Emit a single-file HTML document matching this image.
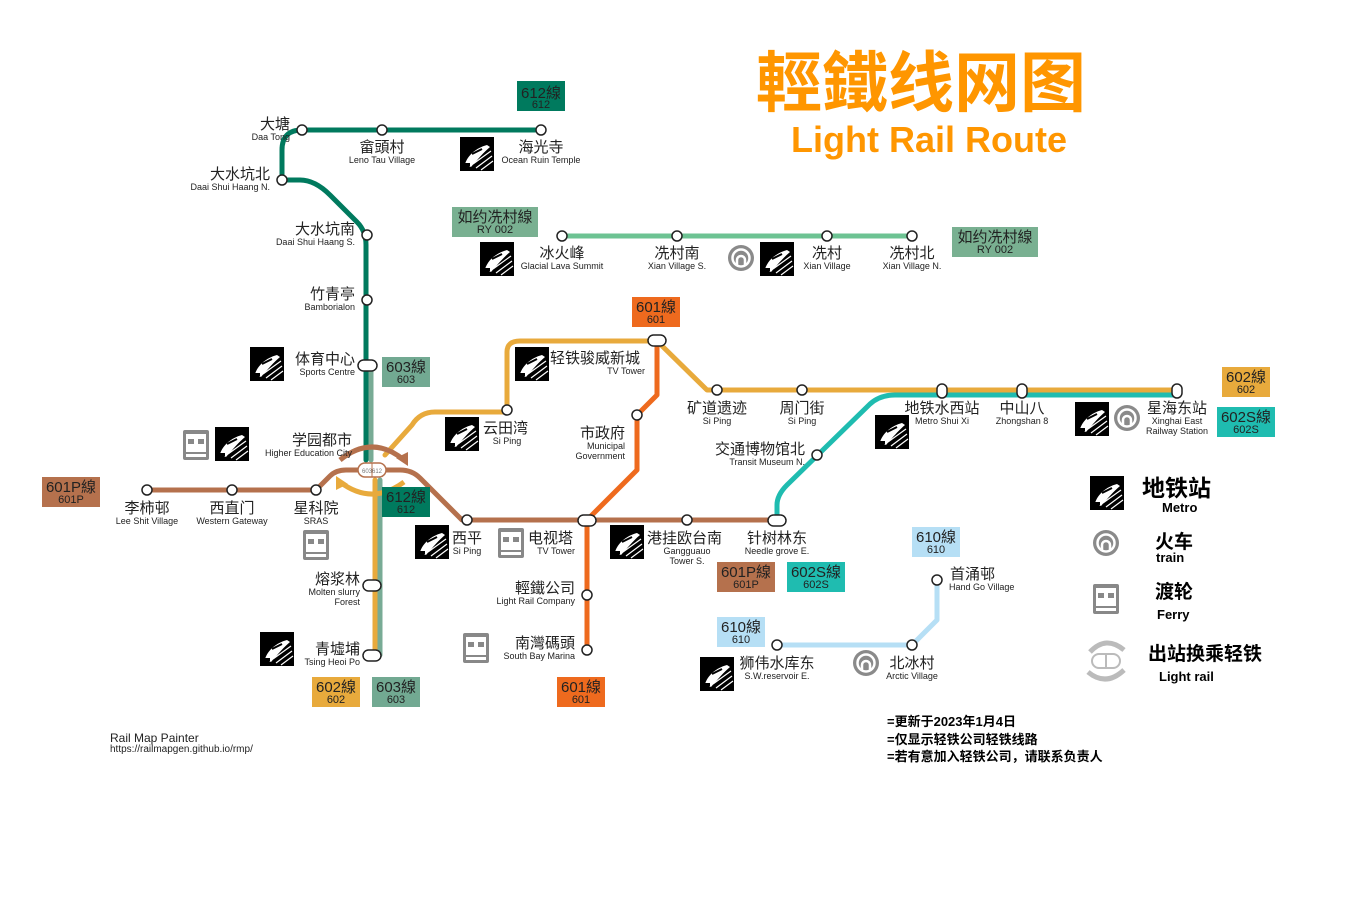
<!DOCTYPE html>
<html><head><meta charset="utf-8"><style>
html,body{margin:0;padding:0;background:#fff;width:1360px;height:915px;overflow:hidden}
svg{display:block}
text{font-family:"Liberation Sans","Noto Sans CJK SC",sans-serif;fill:#222}
.cn{font-size:15px}
.en{font-size:9px}
.bx{font-size:15px}
.bs{font-size:11px}
</style></head><body>
<svg width="1360" height="915" viewBox="0 0 1360 915" xmlns="http://www.w3.org/2000/svg">
<defs>
<g id="m"><rect width="34" height="34" fill="#000"/>
<path d="M5 27 C8 18 16 11 27 8 L30 10 C24 15 18 22 11 30 Z" fill="#fff"/>
<path d="M13 27 L31 14 M16 31 L32 19 M21 33 L33 24" stroke="#fff" stroke-width="1.2"/>
<path d="M12 17 L22 12" stroke="#000" stroke-width="2"/>
<rect x="5" y="26" width="5" height="3" fill="#000"/></g>
<g id="t"><circle r="13" fill="#8a8a8a"/><circle r="8.5" fill="none" stroke="#fff" stroke-width="2.5"/><path d="M-4 7 L-4 2 A4 4 0 1 1 4 2 L4 7" fill="none" stroke="#fff" stroke-width="2.5"/></g>
<g id="f"><rect width="26" height="30" rx="2" fill="#888"/><rect x="3" y="4" width="20" height="18" fill="#fff"/><rect x="5" y="9" width="6" height="5" fill="#888"/><rect x="15" y="9" width="6" height="5" fill="#888"/><rect x="3" y="24" width="20" height="3" fill="#fff"/></g>
</defs>

<text x="921" y="106" text-anchor="middle" style="font-size:66px;font-weight:bold;fill:#ff9600;font-family:'Noto Sans CJK SC',sans-serif">輕鐵线网图</text>
<text x="929" y="152" text-anchor="middle" style="font-size:36px;font-weight:bold;fill:#ff9600">Light Rail Route</text>

<g fill="none" stroke-linecap="round" stroke-linejoin="round" stroke-width="5">
<path d="M541 130 H302 Q282 130 282 150 V180 H300 Q315 180 330 195 L357 222 Q366 231 366 245 V460" stroke="#007a5e"/>
<path d="M371 365 V460" stroke="#78ab95"/>
<path d="M380 480 V655" stroke="#78ab95"/>
<path d="M375 480 V655" stroke="#e8aa3c"/>
<path d="M385 455 L412 425 Q420 412 435 412 H507 V352 Q507 341 520 341 H657 L707 390 H1177" stroke="#e8aa3c"/>
<path d="M562 236 H912" stroke="#6dc393"/>
<path d="M147 490 H316 L330 476 Q336 470 346 470 H400 Q412 470 420 478 L462 520 H777" stroke="#b5714d"/>
<path d="M657 341 V395 L637 415 V470 L587 520 V650" stroke="#ee6a1e"/>
<path d="M777 520 V505 Q777 495 787 485 L870 404 Q880 395 895 395 H1177" stroke="#1fbcb0"/>
<path d="M777 645 H912 L937 620 V580" stroke="#b6dff5"/>
</g>

<path d="M340 460 Q372 434 404 460" fill="none" stroke="#b5714d" stroke-width="5"/>
<path d="M396 458 L408 466 L408 452 Z" fill="#b5714d"/>
<path d="M404 482 Q372 506 340 482" fill="none" stroke="#e8aa3c" stroke-width="5"/>
<path d="M348 484 L336 476 L336 490 Z" fill="#e8aa3c"/>
<rect x="358" y="463" width="28" height="14" rx="7" fill="#fff" stroke="#b5714d" stroke-width="1.5"/>
<line x1="372" y1="463" x2="372" y2="477" stroke="#b5714d"/>
<text x="372" y="473" text-anchor="middle" style="font-size:6px;fill:#777">603612</text>

<g fill="#fff" stroke="#222" stroke-width="1.5">
<circle cx="302" cy="130" r="5"/><circle cx="382" cy="130" r="5"/><circle cx="541" cy="130" r="5"/>
<circle cx="282" cy="180" r="5"/><circle cx="367" cy="235" r="5"/><circle cx="367" cy="300" r="5"/>
<rect x="358" y="360" width="19" height="11" rx="5.5"/>
<circle cx="147" cy="490" r="5"/><circle cx="232" cy="490" r="5"/><circle cx="316" cy="490" r="5"/>
<rect x="363" y="580" width="18" height="11" rx="5.5"/><rect x="363" y="650" width="18" height="11" rx="5.5"/>
<circle cx="467" cy="520" r="5"/><rect x="578" y="515" width="18" height="11" rx="5.5"/>
<circle cx="687" cy="520" r="5"/><rect x="768" y="515" width="18" height="11" rx="5.5"/>
<circle cx="587" cy="595" r="5"/><circle cx="587" cy="650" r="5"/>
<circle cx="637" cy="415" r="5"/><circle cx="507" cy="410" r="5"/>
<rect x="648" y="335" width="18" height="11" rx="5.5"/>
<circle cx="717" cy="390" r="5"/><circle cx="802" cy="390" r="5"/>
<rect x="937" y="384" width="10" height="14" rx="5"/><rect x="1017" y="384" width="10" height="14" rx="5"/><rect x="1172" y="384" width="10" height="14" rx="5"/>
<circle cx="817" cy="455" r="5"/>
<circle cx="562" cy="236" r="5"/><circle cx="677" cy="236" r="5"/><circle cx="827" cy="236" r="5"/><circle cx="912" cy="236" r="5"/>
<circle cx="937" cy="580" r="5"/><circle cx="777" cy="645" r="5"/><circle cx="912" cy="645" r="5"/>
</g>

<use href="#m" x="460" y="137"/><use href="#m" x="250" y="347"/><use href="#m" x="215" y="427"/>
<use href="#m" x="260" y="632"/><use href="#m" x="415" y="525"/><use href="#m" x="610" y="525"/>
<use href="#m" x="445" y="417"/><use href="#m" x="515" y="347"/><use href="#m" x="875" y="415"/>
<use href="#m" x="1075" y="402"/><use href="#m" x="480" y="242"/><use href="#m" x="760" y="242"/>
<use href="#m" x="700" y="657"/><use href="#m" x="1090" y="476"/>
<use href="#f" x="183" y="430"/><use href="#f" x="303" y="530"/><use href="#f" x="498" y="528"/><use href="#f" x="463" y="633"/>
<use href="#f" x="1093" y="584"/>
<use href="#t" x="1127" y="418"/><use href="#t" x="741" y="258"/><use href="#t" x="866" y="663"/><use href="#t" x="1106" y="543"/>
<path d="M1090 652 Q1106 635 1124 650" fill="none" stroke="#bbb" stroke-width="5"/>
<path d="M1124 670 Q1106 687 1088 672" fill="none" stroke="#bbb" stroke-width="5"/>
<rect x="1092" y="654" width="28" height="14" rx="7" fill="#fff" stroke="#bbb" stroke-width="2"/>
<line x1="1106" y1="654" x2="1106" y2="668" stroke="#bbb" stroke-width="2"/>

<g>
<rect x="517" y="81" width="48" height="30" fill="#007a5e"/><text x="541" y="98" text-anchor="middle" class="bx">612線</text><text x="541" y="108" text-anchor="middle" class="bs">612</text>
<rect x="452" y="207" width="86" height="30" fill="#79b091"/><text x="495" y="222" text-anchor="middle" class="bx">如约冼村線</text><text x="495" y="233" text-anchor="middle" class="bs">RY 002</text>
<rect x="952" y="227" width="86" height="30" fill="#79b091"/><text x="995" y="242" text-anchor="middle" class="bx">如约冼村線</text><text x="995" y="253" text-anchor="middle" class="bs">RY 002</text>
<rect x="382" y="357" width="48" height="30" fill="#72a992"/><text x="406" y="372" text-anchor="middle" class="bx">603線</text><text x="406" y="383" text-anchor="middle" class="bs">603</text>
<rect x="632" y="297" width="48" height="30" fill="#ee6a1e"/><text x="656" y="312" text-anchor="middle" class="bx">601線</text><text x="656" y="323" text-anchor="middle" class="bs">601</text>
<rect x="1222" y="367" width="48" height="30" fill="#e8aa3c"/><text x="1246" y="382" text-anchor="middle" class="bx">602線</text><text x="1246" y="393" text-anchor="middle" class="bs">602</text>
<rect x="1217" y="407" width="58" height="30" fill="#1fbcb0"/><text x="1246" y="422" text-anchor="middle" class="bx">602S線</text><text x="1246" y="433" text-anchor="middle" class="bs">602S</text>
<rect x="42" y="477" width="58" height="30" fill="#b5714d"/><text x="71" y="492" text-anchor="middle" class="bx">601P線</text><text x="71" y="503" text-anchor="middle" class="bs">601P</text>
<rect x="382" y="487" width="48" height="30" fill="#007a5e"/><text x="406" y="502" text-anchor="middle" class="bx">612線</text><text x="406" y="513" text-anchor="middle" class="bs">612</text>
<rect x="717" y="562" width="58" height="30" fill="#b5714d"/><text x="746" y="577" text-anchor="middle" class="bx">601P線</text><text x="746" y="588" text-anchor="middle" class="bs">601P</text>
<rect x="787" y="562" width="58" height="30" fill="#1fbcb0"/><text x="816" y="577" text-anchor="middle" class="bx">602S線</text><text x="816" y="588" text-anchor="middle" class="bs">602S</text>
<rect x="912" y="527" width="48" height="30" fill="#b6dff5"/><text x="936" y="542" text-anchor="middle" class="bx">610線</text><text x="936" y="553" text-anchor="middle" class="bs">610</text>
<rect x="717" y="617" width="48" height="30" fill="#b6dff5"/><text x="741" y="632" text-anchor="middle" class="bx">610線</text><text x="741" y="643" text-anchor="middle" class="bs">610</text>
<rect x="312" y="677" width="48" height="30" fill="#e8aa3c"/><text x="336" y="692" text-anchor="middle" class="bx">602線</text><text x="336" y="703" text-anchor="middle" class="bs">602</text>
<rect x="372" y="677" width="48" height="30" fill="#72a992"/><text x="396" y="692" text-anchor="middle" class="bx">603線</text><text x="396" y="703" text-anchor="middle" class="bs">603</text>
<rect x="557" y="677" width="48" height="30" fill="#ee6a1e"/><text x="581" y="692" text-anchor="middle" class="bx">601線</text><text x="581" y="703" text-anchor="middle" class="bs">601</text>
</g>

<g class="cn">
<text x="290" y="129" text-anchor="end" class="cn">大塘</text><text x="290" y="140" text-anchor="end" class="en">Daa Tong</text>
<text x="382" y="152" text-anchor="middle" class="cn">畲頭村</text><text x="382" y="163" text-anchor="middle" class="en">Leno Tau Village</text>
<text x="541" y="152" text-anchor="middle" class="cn">海光寺</text><text x="541" y="163" text-anchor="middle" class="en">Ocean Ruin Temple</text>
<text x="270" y="179" text-anchor="end" class="cn">大水坑北</text><text x="270" y="190" text-anchor="end" class="en">Daai Shui Haang N.</text>
<text x="355" y="234" text-anchor="end" class="cn">大水坑南</text><text x="355" y="245" text-anchor="end" class="en">Daai Shui Haang S.</text>
<text x="355" y="299" text-anchor="end" class="cn">竹青亭</text><text x="355" y="310" text-anchor="end" class="en">Bamborialon</text>
<text x="355" y="364" text-anchor="end" class="cn">体育中心</text><text x="355" y="375" text-anchor="end" class="en">Sports Centre</text>
<text x="352" y="445" text-anchor="end" class="cn">学园都市</text><text x="352" y="456" text-anchor="end" class="en">Higher Education City</text>
<text x="147" y="513" text-anchor="middle" class="cn">李柿邨</text><text x="147" y="524" text-anchor="middle" class="en">Lee Shit Village</text>
<text x="232" y="513" text-anchor="middle" class="cn">西直门</text><text x="232" y="524" text-anchor="middle" class="en">Western Gateway</text>
<text x="316" y="513" text-anchor="middle" class="cn">星科院</text><text x="316" y="524" text-anchor="middle" class="en">SRAS</text>
<text x="360" y="584" text-anchor="end" class="cn">熔浆林</text><text x="360" y="595" text-anchor="end" class="en">Molten slurry</text><text x="360" y="605" text-anchor="end" class="en">Forest</text>
<text x="360" y="654" text-anchor="end" class="cn">青墟埔</text><text x="360" y="665" text-anchor="end" class="en">Tsing Heoi Po</text>
<text x="452" y="543" class="cn">西平</text><text x="467" y="554" text-anchor="middle" class="en">Si Ping</text>
<text x="528" y="543" class="cn">电视塔</text><text x="575" y="554" text-anchor="end" class="en">TV Tower</text>
<text x="647" y="543" class="cn">港挂欧台南</text><text x="687" y="554" text-anchor="middle" class="en">Gangguauo</text><text x="687" y="564" text-anchor="middle" class="en">Tower S.</text>
<text x="777" y="543" text-anchor="middle" class="cn">针树林东</text><text x="777" y="554" text-anchor="middle" class="en">Needle grove E.</text>
<text x="575" y="593" text-anchor="end" class="cn">輕鐵公司</text><text x="575" y="604" text-anchor="end" class="en">Light Rail Company</text>
<text x="575" y="648" text-anchor="end" class="cn">南灣碼頭</text><text x="575" y="659" text-anchor="end" class="en">South Bay Marina</text>
<text x="625" y="438" text-anchor="end" class="cn">市政府</text><text x="625" y="449" text-anchor="end" class="en">Municipal</text><text x="625" y="459" text-anchor="end" class="en">Government</text>
<text x="483" y="433" class="cn">云田湾</text><text x="507" y="444" text-anchor="middle" class="en">Si Ping</text>
<text x="550" y="363" class="cn">轻铁骏威新城</text><text x="645" y="374" text-anchor="end" class="en">TV Tower</text>
<text x="717" y="413" text-anchor="middle" class="cn">矿道遗迹</text><text x="717" y="424" text-anchor="middle" class="en">Si Ping</text>
<text x="802" y="413" text-anchor="middle" class="cn">周门街</text><text x="802" y="424" text-anchor="middle" class="en">Si Ping</text>
<text x="942" y="413" text-anchor="middle" class="cn">地铁水西站</text><text x="942" y="424" text-anchor="middle" class="en">Metro Shui Xi</text>
<text x="1022" y="413" text-anchor="middle" class="cn">中山八</text><text x="1022" y="424" text-anchor="middle" class="en">Zhongshan 8</text>
<text x="1177" y="413" text-anchor="middle" class="cn">星海东站</text><text x="1177" y="424" text-anchor="middle" class="en">Xinghai East</text><text x="1177" y="434" text-anchor="middle" class="en">Railway Station</text>
<text x="805" y="454" text-anchor="end" class="cn">交通博物馆北</text><text x="805" y="465" text-anchor="end" class="en">Transit Museum N.</text>
<text x="562" y="258" text-anchor="middle" class="cn">冰火峰</text><text x="562" y="269" text-anchor="middle" class="en">Glacial Lava Summit</text>
<text x="677" y="258" text-anchor="middle" class="cn">冼村南</text><text x="677" y="269" text-anchor="middle" class="en">Xian Village S.</text>
<text x="827" y="258" text-anchor="middle" class="cn">冼村</text><text x="827" y="269" text-anchor="middle" class="en">Xian Village</text>
<text x="912" y="258" text-anchor="middle" class="cn">冼村北</text><text x="912" y="269" text-anchor="middle" class="en">Xian Village N.</text>
<text x="950" y="579" class="cn">首涌邨</text><text x="949" y="590" class="en">Hand Go Village</text>
<text x="777" y="668" text-anchor="middle" class="cn">狮伟水库东</text><text x="777" y="679" text-anchor="middle" class="en">S.W.reservoir E.</text>
<text x="912" y="668" text-anchor="middle" class="cn">北冰村</text><text x="912" y="679" text-anchor="middle" class="en">Arctic Village</text>
</g>

<g>
<text x="1142" y="496" style="font-size:23px;font-weight:bold;fill:#000">地铁站</text>
<text x="1162" y="512" style="font-size:13px;font-weight:bold;fill:#000">Metro</text>
<text x="1155" y="548" style="font-size:19px;font-weight:bold;fill:#000">火车</text>
<text x="1156" y="562" style="font-size:13px;font-weight:bold;fill:#000">train</text>
<text x="1155" y="598" style="font-size:19px;font-weight:bold;fill:#000">渡轮</text>
<text x="1157" y="619" style="font-size:13px;font-weight:bold;fill:#000">Ferry</text>
<text x="1148" y="660" style="font-size:19px;font-weight:bold;fill:#000">出站换乘轻铁</text>
<text x="1159" y="681" style="font-size:13px;font-weight:bold;fill:#000">Light rail</text>
<text x="887" y="726" style="font-size:13px;font-weight:bold;fill:#000">=更新于2023年1月4日</text>
<text x="887" y="744" style="font-size:13px;font-weight:bold;fill:#000">=仅显示轻铁公司轻铁线路</text>
<text x="887" y="761" style="font-size:13px;font-weight:bold;fill:#000">=若有意加入轻铁公司，请联系负责人</text>
</g>
<text x="110" y="742" style="font-size:12px">Rail Map Painter</text>
<text x="110" y="752" style="font-size:10px">https://railmapgen.github.io/rmp/</text>
</svg>
</body></html>
